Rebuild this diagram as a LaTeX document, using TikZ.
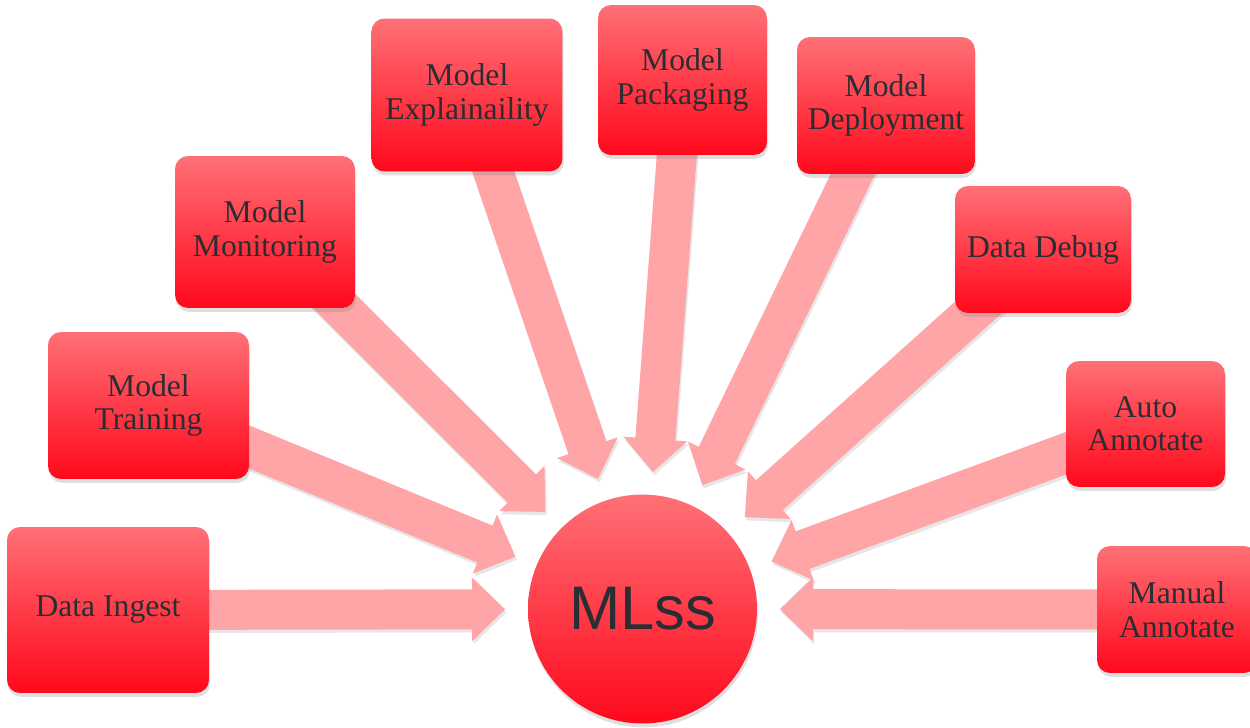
\documentclass[tikz,border=0pt]{standalone}
\usepackage{fontspec}
\setmainfont{Liberation Serif}
\newfontfamily\hubfont{Liberation Sans}
\usepackage{tikz}
\usetikzlibrary{positioning, calc, backgrounds, shadows}

\definecolor{boxtop}{RGB}{255,112,118}
\definecolor{boxbottom}{RGB}{255,8,28}
\definecolor{arrowpink}{RGB}{255,164,167}
\definecolor{labelgray}{RGB}{42,46,50}

\begin{document}
\begin{tikzpicture}[x=0.02cm, y=-0.02cm,
        stagebox/.style={rectangle, rounded corners=0.26cm, top color=boxtop, bottom color=boxbottom,
            text=labelgray, align=center, font=\fontsize{18}{19}\selectfont,
            drop shadow={shadow xshift=0.6pt, shadow yshift=-2.2pt, opacity=0.25}},
        hub/.style={circle, inner sep=0pt, minimum size=4.58cm, top color=boxtop, bottom color=boxbottom,
            text=labelgray, font=\hubfont\fontsize{35}{35}\selectfont,
            drop shadow={shadow xshift=0.6pt, shadow yshift=-2.2pt, opacity=0.25}},
        flowarrow/.style={fill=arrowpink, drop shadow={shadow xshift=0.8pt, shadow yshift=-1.8pt, opacity=0.2}}]
            \useasboundingbox (0,0) rectangle (1250,727);

            % Centre
            \node[hub] (mlss) at (642.5,609) {MLss};

            % Left side
            \node[stagebox, minimum width=4.04cm, minimum height=3.32cm] (ingest) at (108,610) {Data Ingest};
            \node[stagebox, minimum width=4.02cm, minimum height=2.94cm] (training) at (148.5,405.5) {Model\\Training};
            \node[stagebox, minimum width=3.60cm, minimum height=3.04cm] (monitoring) at (265,232) {Model\\Monitoring};
            \node[stagebox, minimum width=3.82cm, minimum height=3.06cm] (explain) at (467,95) {Model\\Explainaility};

            % Top
            \node[stagebox, minimum width=3.38cm, minimum height=3.00cm] (packaging) at (682.5,80) {Model\\Packaging};

            % Right side
            \node[stagebox, minimum width=3.56cm, minimum height=2.74cm] (deployment) at (886,105.5) {Model\\Deployment};
            \node[stagebox, minimum width=3.52cm, minimum height=2.54cm] (debug) at (1043,249.5) {Data Debug};
            \node[stagebox, minimum width=3.18cm, minimum height=2.52cm] (auto) at (1145.5,424) {Auto\\Annotate};
            \node[stagebox, minimum width=3.20cm, minimum height=2.54cm] (manual) at (1177,609.5) {Manual\\Annotate};

            % Arrow tips and head bases
            \coordinate (t1) at ($(mlss.center)!2.75cm!(ingest.center)$);     \coordinate (b1) at ($(t1)!0.66cm!(ingest.center)$);
            \coordinate (t2) at ($(mlss.center)!2.75cm!(training.center)$);   \coordinate (b2) at ($(t2)!0.66cm!(training.center)$);
            \coordinate (t3) at ($(mlss.center)!2.75cm!(monitoring.center)$); \coordinate (b3) at ($(t3)!0.66cm!(monitoring.center)$);
            \coordinate (t4) at ($(mlss.center)!2.75cm!(explain.center)$);    \coordinate (b4) at ($(t4)!0.66cm!(explain.center)$);
            \coordinate (t5) at ($(mlss.center)!2.75cm!(packaging.center)$);  \coordinate (b5) at ($(t5)!0.66cm!(packaging.center)$);
            \coordinate (t6) at ($(mlss.center)!2.75cm!(deployment.center)$); \coordinate (b6) at ($(t6)!0.66cm!(deployment.center)$);
            \coordinate (t7) at ($(mlss.center)!2.75cm!(debug.center)$);      \coordinate (b7) at ($(t7)!0.66cm!(debug.center)$);
            \coordinate (t8) at ($(mlss.center)!2.75cm!(auto.center)$);       \coordinate (b8) at ($(t8)!0.66cm!(auto.center)$);
            \coordinate (t9) at ($(mlss.center)!2.75cm!(manual.center)$);     \coordinate (b9) at ($(t9)!0.66cm!(manual.center)$);

            % Block arrows, behind the boxes
            \begin{scope}[on background layer]
            \fill[flowarrow] ($(ingest.center)!0.4cm!90:(t1)$) -- ($(b1)!0.4cm!90:(t1)$) -- ($(b1)!0.64cm!90:(t1)$) -- (t1) -- ($(b1)!0.64cm!-90:(t1)$) -- ($(b1)!0.4cm!-90:(t1)$) -- ($(ingest.center)!0.4cm!-90:(t1)$) -- cycle;
            \fill[flowarrow] ($(training.center)!0.4cm!90:(t2)$) -- ($(b2)!0.4cm!90:(t2)$) -- ($(b2)!0.64cm!90:(t2)$) -- (t2) -- ($(b2)!0.64cm!-90:(t2)$) -- ($(b2)!0.4cm!-90:(t2)$) -- ($(training.center)!0.4cm!-90:(t2)$) -- cycle;
            \fill[flowarrow] ($(monitoring.center)!0.4cm!90:(t3)$) -- ($(b3)!0.4cm!90:(t3)$) -- ($(b3)!0.64cm!90:(t3)$) -- (t3) -- ($(b3)!0.64cm!-90:(t3)$) -- ($(b3)!0.4cm!-90:(t3)$) -- ($(monitoring.center)!0.4cm!-90:(t3)$) -- cycle;
            \fill[flowarrow] ($(explain.center)!0.4cm!90:(t4)$) -- ($(b4)!0.4cm!90:(t4)$) -- ($(b4)!0.64cm!90:(t4)$) -- (t4) -- ($(b4)!0.64cm!-90:(t4)$) -- ($(b4)!0.4cm!-90:(t4)$) -- ($(explain.center)!0.4cm!-90:(t4)$) -- cycle;
            \fill[flowarrow] ($(packaging.center)!0.4cm!90:(t5)$) -- ($(b5)!0.4cm!90:(t5)$) -- ($(b5)!0.64cm!90:(t5)$) -- (t5) -- ($(b5)!0.64cm!-90:(t5)$) -- ($(b5)!0.4cm!-90:(t5)$) -- ($(packaging.center)!0.4cm!-90:(t5)$) -- cycle;
            \fill[flowarrow] ($(deployment.center)!0.4cm!90:(t6)$) -- ($(b6)!0.4cm!90:(t6)$) -- ($(b6)!0.64cm!90:(t6)$) -- (t6) -- ($(b6)!0.64cm!-90:(t6)$) -- ($(b6)!0.4cm!-90:(t6)$) -- ($(deployment.center)!0.4cm!-90:(t6)$) -- cycle;
            \fill[flowarrow] ($(debug.center)!0.4cm!90:(t7)$) -- ($(b7)!0.4cm!90:(t7)$) -- ($(b7)!0.64cm!90:(t7)$) -- (t7) -- ($(b7)!0.64cm!-90:(t7)$) -- ($(b7)!0.4cm!-90:(t7)$) -- ($(debug.center)!0.4cm!-90:(t7)$) -- cycle;
            \fill[flowarrow] ($(auto.center)!0.4cm!90:(t8)$) -- ($(b8)!0.4cm!90:(t8)$) -- ($(b8)!0.64cm!90:(t8)$) -- (t8) -- ($(b8)!0.64cm!-90:(t8)$) -- ($(b8)!0.4cm!-90:(t8)$) -- ($(auto.center)!0.4cm!-90:(t8)$) -- cycle;
            \fill[flowarrow] ($(manual.center)!0.4cm!90:(t9)$) -- ($(b9)!0.4cm!90:(t9)$) -- ($(b9)!0.64cm!90:(t9)$) -- (t9) -- ($(b9)!0.64cm!-90:(t9)$) -- ($(b9)!0.4cm!-90:(t9)$) -- ($(manual.center)!0.4cm!-90:(t9)$) -- cycle;
            \end{scope}
        \end{tikzpicture}
\end{document}
